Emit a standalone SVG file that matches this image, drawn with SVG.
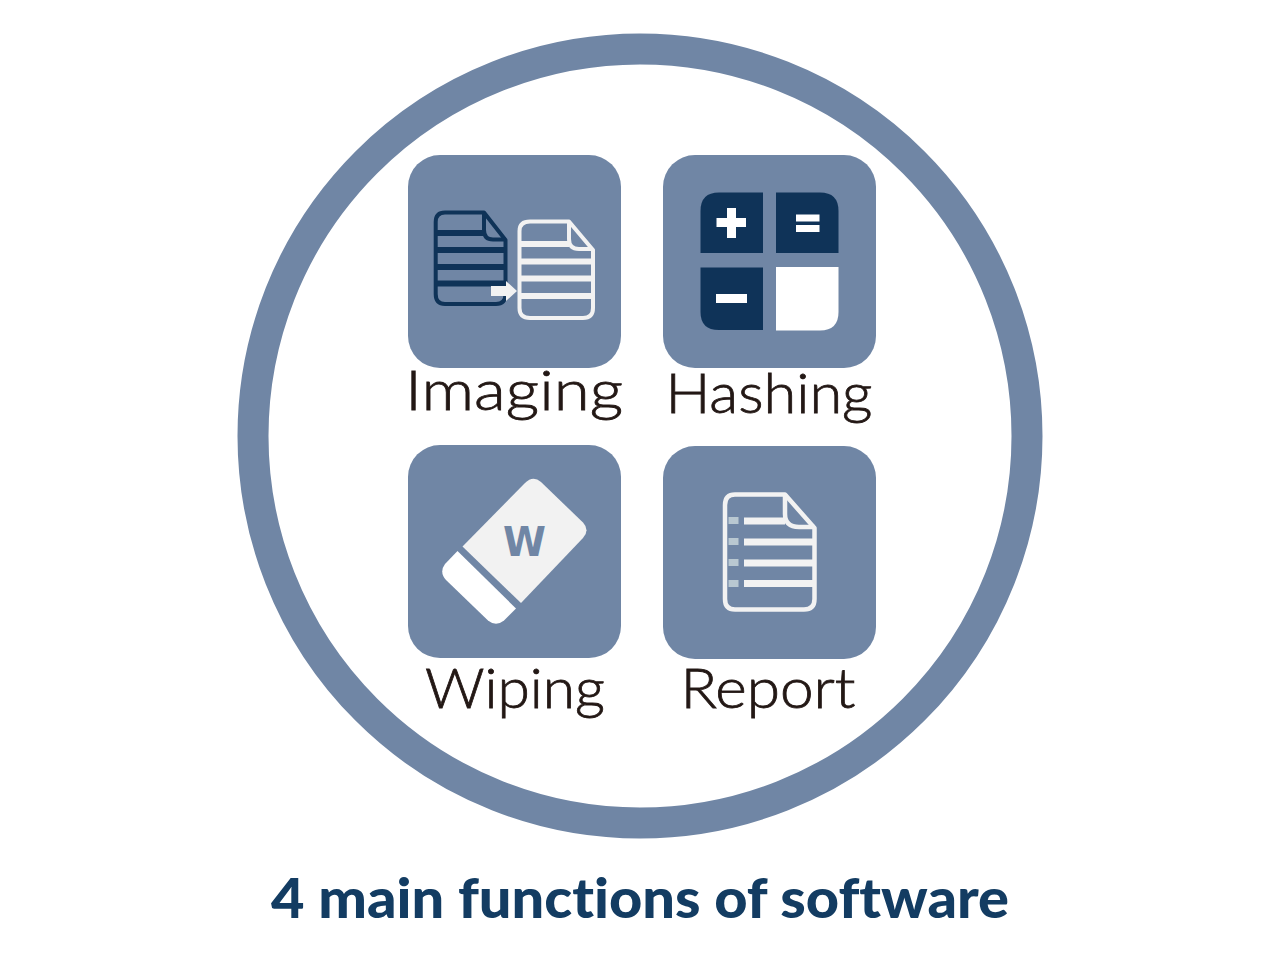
<svg xmlns="http://www.w3.org/2000/svg" width="1280" height="960" viewBox="0 0 1280 960">
<style>
.tile{fill:#7086a5}
.lbl{font-family:"Lato","Liberation Sans",sans-serif;font-weight:300;font-size:56px;fill:#231815;stroke:#231815;stroke-width:.8px;text-anchor:middle;font-variant-ligatures:none}
.doc{fill:none;stroke-linejoin:round}
.dk{stroke:#0f3358}
.lt{stroke:#f2f2f2}
</style>
<rect width="1280" height="960" fill="#ffffff"/>
<circle id="ring" cx="640" cy="436" r="387" fill="none" stroke="#7086a5" stroke-width="31"/>
<g id="imaging">
<rect class="tile" x="408" y="155" width="213" height="213" rx="32"/>
<g class="doc dk">
<path stroke-width="4" d="M484 212.500H445Q435.700 212.500 435.700 222V294Q435.700 304 445 304H496Q505.500 304 505.500 294V240Z"/>
<path stroke-width="4" d="M484 212.500V230Q484 239.500 493 239.500H505.500"/>
<path stroke-width="6" d="M436 233H484M436 250H505M436 267H505M436 283.500H505"/>
</g>
<g class="doc lt">
<path stroke-width="4" d="M569 221.500H530Q519.500 221.500 519.500 231V308Q519.500 318 530 318H583Q593 318 593 308V250Z"/>
<path stroke-width="4" d="M569 221.500V239Q569 249 579 249H593"/>
<path stroke-width="6" d="M520 244H569M520 261.500H593M520 278.500H593M520 296H593"/>
</g>
<path d="M491 286H506V281L517 291L506 301V296H491Z" fill="#f2f2f2"/>
</g>
<g id="hashing">
<rect class="tile" x="663" y="155" width="213" height="213" rx="32"/>
<path d="M763 192.500V253H700.500V211Q700.500 192.500 719 192.500Z" fill="#0f3358"/>
<path d="M776 192.500V253H838.500V211Q838.500 192.500 820 192.500Z" fill="#0f3358"/>
<path d="M763 267.500V330H719Q700.500 330 700.500 312V267.500Z" fill="#0f3358"/>
<path d="M776 267H838.500V312Q838.500 330.500 820 330.500H776Z" fill="#ffffff"/>
<path d="M727 208H736V218H746V227H736V238H727V227H716.500V218H727Z" fill="#ffffff"/>
<rect x="796" y="214.500" width="23.500" height="7" fill="#ffffff"/>
<rect x="796" y="225" width="23.500" height="7" fill="#ffffff"/>
<rect x="716" y="294" width="31" height="9" fill="#ffffff"/>
</g>
<g id="wiping">
<rect class="tile" x="408" y="445" width="213" height="213" rx="32"/>
<path d="M462.500 546.500L525 483Q533 475 541 482L583 522.500Q590 530 583 538L521 603Z" fill="#f2f2f2"/>
<path d="M457.500 551L516 608.500L504 620.500Q496 627 488 620.500L446 580Q439 572 445 564Z" fill="#ffffff"/>
<text x="524.500" y="556" font-family="'DejaVu Sans','Liberation Sans',sans-serif" font-weight="700" font-size="41" text-anchor="middle" fill="#7086a5" textLength="43" lengthAdjust="spacingAndGlyphs">W</text>
</g>
<g id="report">
<rect class="tile" x="663" y="446" width="213" height="213" rx="32"/>
<g class="doc lt">
<path stroke-width="4.500" d="M785 494.500H735Q725 494.500 725 505V599Q725 609.500 735 609.500H804Q814.500 609.500 814.500 599V528Z"/>
<path stroke-width="4.500" d="M785 494.500V514Q785 527 799 527H814.500"/>
<path stroke-width="7" d="M744 521H785M744 542H813M744 563H813M744 583.500H813"/>
</g>
<g fill="#b9c8d1">
<rect x="728.500" y="517" width="10" height="7"/>
<rect x="728.500" y="538" width="10" height="7"/>
<rect x="728.500" y="559" width="10" height="7"/>
<rect x="728.500" y="580" width="10" height="7"/>
</g>
</g>
<text id="t-imaging" class="lbl" x="514" y="410" textLength="218" lengthAdjust="spacingAndGlyphs">Imaging</text>
<text id="t-hashing" class="lbl" x="769" y="413" textLength="207" lengthAdjust="spacingAndGlyphs">Hashing</text>
<text id="t-wiping" class="lbl" x="515" y="708" textLength="180" lengthAdjust="spacingAndGlyphs">Wiping</text>
<text id="t-report" class="lbl" x="768" y="708" textLength="175" lengthAdjust="spacingAndGlyphs">Report</text>
<text id="title" x="640" y="918" font-family="'Lato','DejaVu Sans',sans-serif" font-weight="900" font-size="55" fill="#133c62" text-anchor="middle" textLength="738" lengthAdjust="spacingAndGlyphs" style="font-variant-ligatures:none">4 main functions of software</text>
</svg>
